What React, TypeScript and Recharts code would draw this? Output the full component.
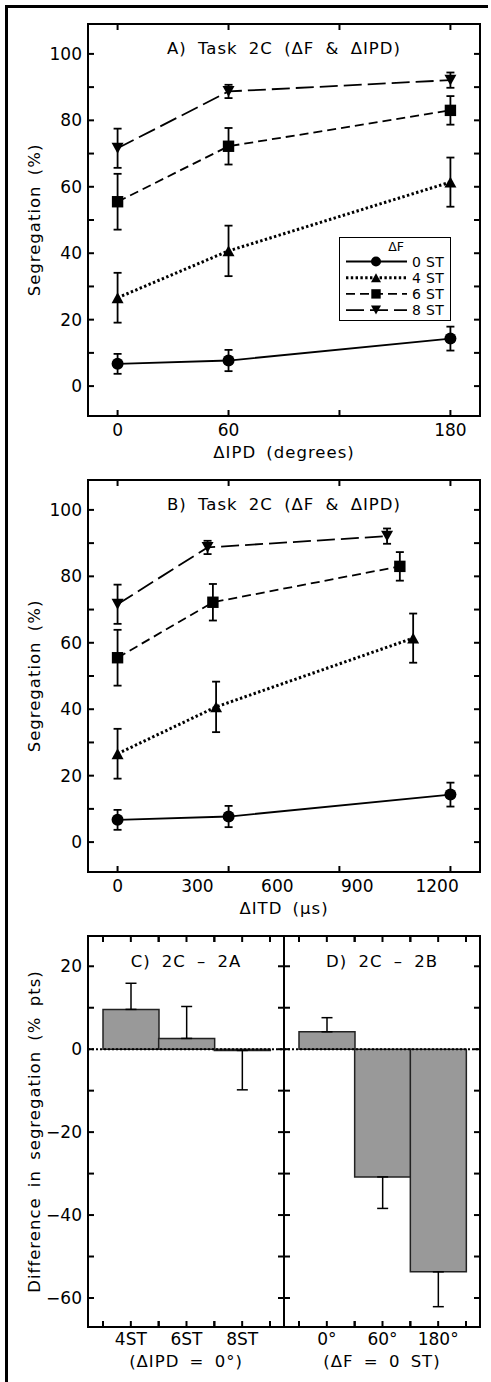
/**
 * Segregation vs. interaural difference (panels A, B) and difference bars (panels C, D)
 */

import React from 'react';
import { LineChart, Line, XAxis, YAxis, ErrorBar, Legend, BarChart, Bar, ReferenceLine } from 'recharts';

const FONT = '"DejaVu Sans", Verdana, sans-serif';
const INK = '#000';

// Panels A & B: segregation (%) per delta-F level, at three IPDs
const IPD_DEG = [0, 60, 180];
const SEG_0ST = [6.7, 7.7, 14.3];
const ERR_0ST = [3.0, 3.2, 3.6];
const SEG_4ST = [26.6, 40.7, 61.4];
const ERR_4ST = [7.5, 7.6, 7.4];
const SEG_6ST = [55.5, 72.2, 83.0];
const ERR_6ST = [8.4, 5.5, 4.3];
const SEG_8ST = [71.6, 88.7, 92.1];
const ERR_8ST = [5.9, 2.0, 2.3];

// Panel B: same conditions expressed as ITD (microseconds)
const ITD_0ST = [0, 417, 1250];
const ITD_4ST = [0, 370, 1110];
const ITD_6ST = [0, 358, 1060];
const ITD_8ST = [0, 338, 1012];

// Axis ticks
const SEG_TICKS = [0, 10, 20, 30, 40, 50, 60, 70, 80, 90, 100];
const IPD_MARKS = [0, 60, 120, 180];
const IPD_LABELS = [0, 60, 180];
const ITD_MARKS = [0, 417, 833, 1250];
const ITD_LABELS = [0, 300, 600, 900, 1200];

// Panels C & D: difference in segregation (% pts)
const C_CATS = ['4ST', '6ST', '8ST'];
const C_DIFF = [9.6, 2.6, -0.3];
const C_ERR = [6.3, 7.7, 9.5];
const D_CATS = ['0°', '60°', '180°'];
const D_DIFF = [4.2, -30.8, -53.7];
const D_ERR = [3.4, 7.6, 8.4];
const DIFF_TICKS = [-60, -50, -40, -30, -20, -10, 0, 10, 20];

type Shape = 'circle' | 'up' | 'square' | 'down';

const SERIES: Array<{ name: string; shape: Shape; dash?: string; lw: number; seg: number[]; err: number[]; itd: number[] }> = [
  { name: '0 ST', shape: 'circle', lw: 1.8, seg: SEG_0ST, err: ERR_0ST, itd: ITD_0ST },
  { name: '4 ST', shape: 'up', dash: '2.4 2.4', lw: 3, seg: SEG_4ST, err: ERR_4ST, itd: ITD_4ST },
  { name: '6 ST', shape: 'square', dash: '9 5', lw: 1.8, seg: SEG_6ST, err: ERR_6ST, itd: ITD_6ST },
  { name: '8 ST', shape: 'down', dash: '18 6', lw: 1.8, seg: SEG_8ST, err: ERR_8ST, itd: ITD_8ST },
];

const LABEL_STYLE = { fontSize: 16.5, fontFamily: FONT, letterSpacing: 1, wordSpacing: 4, fill: INK, textAnchor: 'middle' as const };
const TITLE_STYLE = { ...LABEL_STYLE, wordSpacing: 5 };
const AXIS_LINE = { stroke: INK, strokeWidth: 2, strokeLinecap: 'square' as const };
const TICK_LEN = 6;
const TICK_FONT = 17;

const fmt = (v: number) => (v < 0 ? `\u2212${-v}` : `${v}`);

const Marker = ({ shape, cx, cy, s = 6 }: { shape: Shape; cx?: number; cy?: number; s?: number }) => {
  if (cx == null || cy == null) return null;
  const h = s * 0.9;
  switch (shape) {
    case 'circle':
      return <circle cx={cx} cy={cy} r={s} fill={INK} />;
    case 'square':
      return <rect x={cx - s + 0.3} y={cy - s + 0.3} width={2 * s - 0.6} height={2 * s - 0.6} fill={INK} />;
    case 'up':
      return <polygon points={`${cx - s},${cy + h} ${cx + s},${cy + h} ${cx},${cy - h}`} fill={INK} />;
    default:
      return <polygon points={`${cx - s},${cy - h} ${cx + s},${cy - h} ${cx},${cy + h}`} fill={INK} />;
  }
};

// Inward tick renderers (axes drawn with tickSize 0 so x/y sit on the frame)
const leftTick = (every: number | null) => (p: any) => {
  const { x, y, payload } = p;
  const v = payload.value as number;
  return (
    <g>
      <line x1={x} x2={x + TICK_LEN} y1={y} y2={y} stroke={INK} strokeWidth={2} />
      {every !== null && v % every === 0 && (
        <text x={x - 6} y={y} dy="0.36em" textAnchor="end" fontSize={TICK_FONT} fontFamily={FONT} fill={INK}>
          {fmt(v)}
        </text>
      )}
    </g>
  );
};

const rightTick = (p: any) => <line x1={p.x} x2={p.x - TICK_LEN} y1={p.y} y2={p.y} stroke={INK} strokeWidth={2} />;

const topTick = (marks: number[]) => (p: any) =>
  marks.includes(p.payload.value) ? (
    <line x1={p.x} x2={p.x} y1={p.y} y2={p.y + TICK_LEN} stroke={INK} strokeWidth={2} />
  ) : (
    <g />
  );

const bottomTick = (marks: number[], labels: number[]) => (p: any) => {
  const { x, y, payload } = p;
  const v = payload.value as number;
  return (
    <g>
      {marks.includes(v) && <line x1={x} x2={x} y1={y} y2={y - TICK_LEN} stroke={INK} strokeWidth={2} />}
      {labels.includes(v) && (
        <text x={x} y={y + 20} textAnchor="middle" fontSize={TICK_FONT} fontFamily={FONT} fill={INK}>
          {v}
        </text>
      )}
    </g>
  );
};

// Legend drawn inside panel A
const DfLegend = () => (
  <div style={{ width: 112, height: 84, border: `1.5px solid ${INK}`, boxSizing: 'border-box', background: '#fff' }}>
    <svg width={109} height={81}>
      <text x={56} y={13} textAnchor="middle" fontSize={12.5} fontFamily={FONT} fill={INK}>ΔF</text>
      {SERIES.map((s, i) => {
        const y = 23.5 + i * 16.2;
        return (
          <g key={s.name}>
            <line x1={6} x2={67} y1={y} y2={y} stroke={INK} strokeWidth={s.lw} strokeDasharray={s.dash} />
            <Marker shape={s.shape} cx={36} cy={y} s={5} />
            <text x={72} y={y} dy="0.36em" fontSize={14} fontFamily={FONT} letterSpacing={0.3} fill={INK}>{s.name}</text>
          </g>
        );
      })}
    </svg>
  </div>
);

interface SegPanelProps {
  top: number;
  title: string;
  xLabel: string;
  xDomain: [number, number];
  xTicks: number[];
  marks: number[];
  labels: number[];
  useItd: boolean;
  legend: boolean;
}

const SegPanel: React.FC<SegPanelProps> = ({ top, title, xLabel, xDomain, xTicks, marks, labels, useItd, legend }) => (
  <div style={{ position: 'absolute', left: 0, top }}>
    <LineChart width={491} height={472} margin={{ top: 0, right: 0, bottom: 0, left: 0 }}>
      <XAxis
        xAxisId="b" type="number" dataKey="x" domain={xDomain} allowDataOverflow ticks={xTicks} interval={0}
        height={56} axisLine={AXIS_LINE} tickLine={false} tickSize={0} tickMargin={0}
        tick={bottomTick(marks, labels)}
        label={{ value: xLabel, position: 'insideBottom', offset: 14, style: LABEL_STYLE }}
      />
      <XAxis
        xAxisId="t" orientation="top" type="number" dataKey="x" domain={xDomain} allowDataOverflow ticks={xTicks} interval={0}
        height={24} axisLine={AXIS_LINE} tickLine={false} tickSize={0} tickMargin={0}
        tick={topTick(marks)}
        label={{ value: title, position: 'bottom', offset: 18, style: TITLE_STYLE }}
      />
      <YAxis
        yAxisId="l" type="number" domain={[-9, 109]} allowDataOverflow ticks={SEG_TICKS} interval={0}
        width={88} axisLine={AXIS_LINE} tickLine={false} tickSize={0} tickMargin={0}
        tick={leftTick(20)}
        label={{ value: 'Segregation (%)', angle: -90, position: 'insideLeft', offset: 34, style: LABEL_STYLE }}
      />
      <YAxis
        yAxisId="r" orientation="right" type="number" domain={[-9, 109]} allowDataOverflow ticks={SEG_TICKS} interval={0}
        width={11} axisLine={AXIS_LINE} tickLine={false} tickSize={0} tickMargin={0}
        tick={rightTick}
      />
      {SERIES.map((s) => (
        <Line
          key={s.name}
          name={s.name}
          xAxisId="b"
          yAxisId="l"
          data={(useItd ? s.itd : IPD_DEG).map((x, i) => ({ x, y: s.seg[i], e: s.err[i] }))}
          dataKey="y"
          type="linear"
          stroke={INK}
          strokeWidth={s.lw}
          strokeDasharray={s.dash}
          dot={(p: any) => <Marker key={`${s.name}-${p.index}`} shape={s.shape} cx={p.cx} cy={p.cy} />}
          activeDot={false}
          isAnimationActive={false}
        >
          <ErrorBar dataKey="e" direction="y" width={4} strokeWidth={1.8} stroke={INK} />
        </Line>
      ))}
      {legend && (
        <Legend
          layout="vertical"
          align="center"
          verticalAlign="middle"
          content={() => <DfLegend />}
          wrapperStyle={{ left: 339, top: 237, width: 112, height: 84 }}
        />
      )}
    </LineChart>
  </div>
);

// Bar panels: band width after the axis padding, used for edge ticks
const BAR_PLOT_W = 196;
const PAD_L = 15;
const PAD_R = 14;
const BAND = (BAR_PLOT_W - PAD_L - PAD_R) / 3;

const bandBottomTick = (p: any) => {
  const { x, y, payload } = p;
  return (
    <g>
      {[-BAND / 2, 0, BAND / 2].map((d) => (
        <line key={d} x1={x + d} x2={x + d} y1={y} y2={y - TICK_LEN} stroke={INK} strokeWidth={2} />
      ))}
      <text x={x} y={y + 18} textAnchor="middle" fontSize={TICK_FONT} fontFamily={FONT} fill={INK}>
        {payload.value}
      </text>
    </g>
  );
};

const bandTopTick = (p: any) => (
  <g>
    {[-BAND / 2, 0, BAND / 2].map((d) => (
      <line key={d} x1={p.x + d} x2={p.x + d} y1={p.y} y2={p.y + TICK_LEN} stroke={INK} strokeWidth={2} />
    ))}
  </g>
);

interface DiffPanelProps {
  left: number;
  cats: string[];
  diff: number[];
  err: number[];
  title: string;
  sub: string;
  first: boolean;
}

const DiffPanel: React.FC<DiffPanelProps> = ({ left, cats, diff, err, title, sub, first }) => {
  const data = cats.map((cat, i) => ({ cat, v: diff[i], e: diff[i] >= 0 ? [0, err[i]] : [err[i], 0] }));
  const leftW = first ? 88 : 8;
  const rightW = first ? 8 : 11;
  return (
    <div style={{ position: 'absolute', left, top: 912 }}>
      <BarChart
        width={leftW + BAR_PLOT_W + rightW}
        height={470}
        data={data}
        margin={{ top: 0, right: 0, bottom: 0, left: 0 }}
        barCategoryGap={0}
      >
        <XAxis
          xAxisId="b" dataKey="cat" height={55} padding={{ left: PAD_L, right: PAD_R }} interval={0}
          axisLine={AXIS_LINE} tickLine={false} tickSize={0} tickMargin={0} tick={bandBottomTick}
          label={{ value: sub, position: 'insideBottom', offset: 15, style: LABEL_STYLE }}
        />
        <XAxis
          xAxisId="t" orientation="top" dataKey="cat" height={24} padding={{ left: PAD_L, right: PAD_R }} interval={0}
          axisLine={AXIS_LINE} tickLine={false} tickSize={0} tickMargin={0} tick={bandTopTick}
          label={{ value: title, position: 'bottom', offset: 19, style: TITLE_STYLE }}
        />
        <YAxis
          yAxisId="l" type="number" domain={[-67, 27.3]} allowDataOverflow ticks={DIFF_TICKS} interval={0}
          width={leftW} axisLine={AXIS_LINE} tickLine={false} tickSize={0} tickMargin={0}
          tick={leftTick(first ? 20 : null)}
          label={first ? { value: 'Difference in segregation (% pts)', angle: -90, position: 'insideLeft', offset: 34, style: LABEL_STYLE } : undefined}
        />
        <YAxis
          yAxisId="r" orientation="right" type="number" domain={[-67, 27.3]} allowDataOverflow ticks={DIFF_TICKS} interval={0}
          width={rightW} axisLine={AXIS_LINE} tickLine={false} tickSize={0} tickMargin={0} tick={rightTick}
        />
        <Bar xAxisId="b" yAxisId="l" dataKey="v" fill="#999999" stroke="#222" strokeWidth={1.5} isAnimationActive={false}>
          <ErrorBar dataKey="e" direction="y" width={5.5} strokeWidth={1.5} stroke={INK} />
        </Bar>
        <ReferenceLine xAxisId="b" yAxisId="l" y={0} stroke={INK} strokeWidth={2} strokeDasharray="2 2" />
      </BarChart>
    </div>
  );
};

export default function App() {
  return (
    <div style={{ position: 'absolute', left: 0, top: 0, width: 491, height: 1382, background: '#fff', overflow: 'hidden' }}>
      {/* page frame: top and left rules */}
      <div style={{ position: 'absolute', left: 5, top: 5, width: 480, height: 1377, borderLeft: `3px solid ${INK}`, borderTop: `3px solid ${INK}` }} />
      <SegPanel
        top={0}
        title="A) Task 2C (ΔF & ΔIPD)"
        xLabel="ΔIPD (degrees)"
        xDomain={[-16, 196]}
        xTicks={IPD_MARKS}
        marks={IPD_MARKS}
        labels={IPD_LABELS}
        useItd={false}
        legend
      />
      <SegPanel
        top={456}
        title="B) Task 2C (ΔF & ΔIPD)"
        xLabel="ΔITD (μs)"
        xDomain={[-111, 1361]}
        xTicks={[...ITD_MARKS, ...ITD_LABELS.filter((v) => !ITD_MARKS.includes(v))].sort((a, b) => a - b)}
        marks={ITD_MARKS}
        labels={ITD_LABELS}
        useItd
        legend={false}
      />
      <DiffPanel left={0} cats={C_CATS} diff={C_DIFF} err={C_ERR} title="C) 2C – 2A" sub="(ΔIPD = 0°)" first />
      <DiffPanel left={276} cats={D_CATS} diff={D_DIFF} err={D_ERR} title="D) 2C – 2B" sub="(ΔF = 0 ST)" first={false} />
    </div>
  );
}
